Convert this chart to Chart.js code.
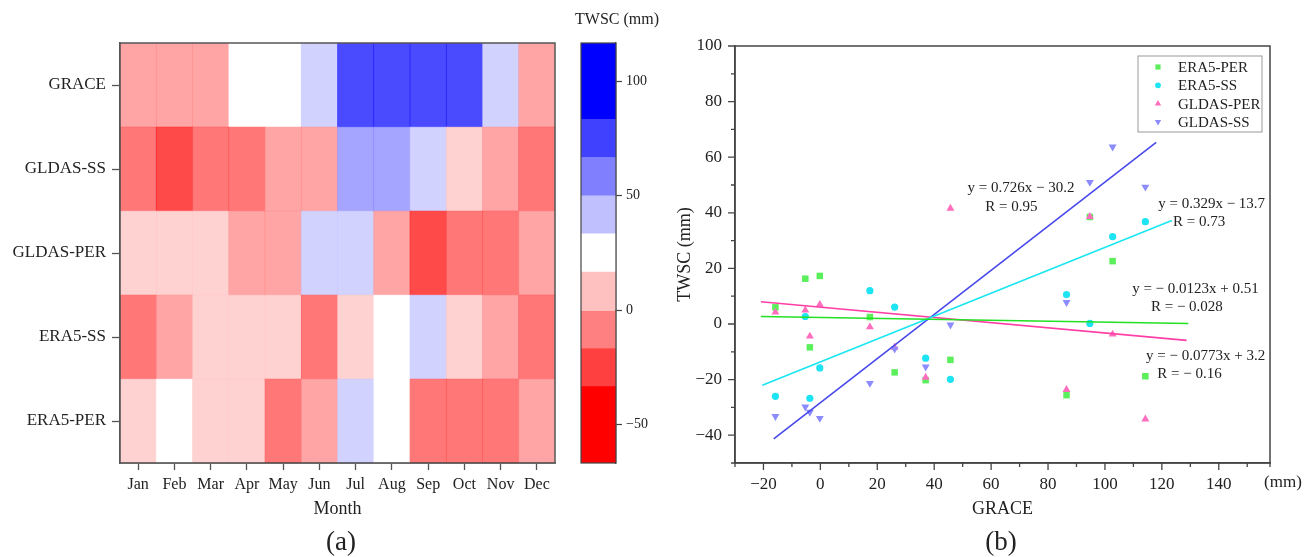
<!DOCTYPE html>
<html>
<head>
<meta charset="utf-8">
<script src="https://cdn.jsdelivr.net/npm/chart.js@4.4.1/dist/chart.umd.min.js"></script>
<style>
  html, body { margin: 0; padding: 0; background: #fff; }
  #wrap { position: relative; width: 1314px; height: 557px; overflow: hidden; }
  canvas { position: absolute; top: 0; }
</style>
</head>
<body>
<div id="wrap">
  <canvas id="heatChart" width="560" height="557" style="left:0"></canvas>
  <canvas id="barChart" width="110" height="557" style="left:560px"></canvas>
  <canvas id="scatterChart" width="654" height="557" style="left:660px"></canvas>
</div>
<script>
const months = ['Jan', 'Feb', 'Mar', 'Apr', 'May', 'Jun', 'Jul', 'Aug', 'Sep', 'Oct', 'Nov', 'Dec'];
const grace    = [-15.8, -0.2, -5.3, 17.4, 26.1, 45.7, 94.7, 102.7, 114.2, 86.5, 37.0, -3.7];
const gldasSS  = [-33.2, -33.9, -29.8, -21.3, -9.0, -0.3, 51.0, 63.7, 49.3, 7.8, -15.4, -31.7];
const gldasPER = [4.2, 7.0, 5.0, -1.1, -8.4, 41.6, 38.6, -3.7, -34.2, -23.6, -19.2, -4.4];
const era5SS   = [-26.0, -15.8, 2.7, 12.0, 6.1, -19.9, 0.2, 31.4, 36.8, 10.6, -12.3, -26.7];
const era5PER  = [6.0, 17.3, 16.3, 2.5, -17.4, -12.9, 38.5, 22.6, -18.8, -25.6, -20.2, -8.4];

// heatmap rows, top to bottom
const rowNames = ['GRACE', 'GLDAS-SS', 'GLDAS-PER', 'ERA5-SS', 'ERA5-PER'];
const rowSeries = [grace, gldasSS, gldasPER, era5SS, era5PER];

// colour bar levels (mm)
const bandEdges = [-66.67, -33.33, -16.67, 0, 16.67, 33.33, 50, 66.67, 83.33, 116.67];
const colorbarTicks = [-50, 0, 50, 100];

// scatter series (x = GRACE)
const seriesNames = ['ERA5-PER', 'ERA5-SS', 'GLDAS-PER', 'GLDAS-SS'];
const seriesValues = [era5PER, era5SS, gldasPER, gldasSS];

// fitted lines as drawn: start and end points
const fitX0 = [-20.9, -20.4, -20.9, -16.4];
const fitY0 = [2.7, -22.0, 8.0, -41.3];
const fitX1 = [129.3, 123.5, 128.7, 118.0];
const fitY1 = [0.2, 37.2, -5.9, 65.3];
const fitEquations = ['y = \u2212 0.0773x + 3.2', 'y = 0.329x \u2212 13.7', 'y = \u2212 0.0123x + 0.51', 'y = 0.726x \u2212 30.2'];
const fitR = ['R = \u2212 0.16', 'R = 0.73', 'R = \u2212 0.028', 'R = 0.95'];

// ---- styling ----
const bandRGB = ['255,0,0', '255,64,64', '255,128,128', '255,192,192', '255,255,255',
                 '192,192,255', '128,128,255', '64,64,255', '0,0,255'];
const markerColors = ['#5cef5c', '#1ee3f2', '#ff6ebe', '#8c8cff'];
const markerStyles = ['rect', 'circle', 'triangle', 'triangle'];
const markerRotation = [0, 0, 0, 180];
const markerRadius = [4.6, 3.6, 4.6, 4.6];
const lineColors = ['#22e022', '#19e6f0', '#ff3fa5', '#4848ec'];
// label anchors (data units) for equation and R text
const eqAt = [[135.4, -11.4], [137.5, 43.2], [131.8, 12.7], [70.5, 48.8]];
const rAt = [[129.7, -17.9], [133.1, 36.6], [128.8, 6.1], [67.1, 42.0]];

const SERIF = "'Liberation Serif', 'Times New Roman', serif";
const INK = '#222';
Chart.defaults.font.family = SERIF;
Chart.defaults.color = INK;

function bandIndex(v) {
    for (let i = 0; i < bandEdges.length - 1; i++) {
        if (v >= bandEdges[i] && v < bandEdges[i + 1]) return i;
    }
    return v < bandEdges[0] ? 0 : bandEdges.length - 2;
}
function minus(v) {
    return String(v).replace('-', '\u2212');
}

const framePlugin = {
    id: 'frame',
    afterDraw(chart, args, opts) {
        const { ctx, chartArea: a } = chart;
        ctx.save();
        ctx.strokeStyle = opts.color || '#555';
        ctx.lineWidth = opts.width || 1.5;
        ctx.strokeRect(a.left, a.top, a.right - a.left, a.bottom - a.top);
        ctx.restore();
    }
};

const textPlugin = {
    id: 'texts',
    afterDraw(chart, args, opts) {
        const ctx = chart.ctx;
        ctx.save();
        ctx.fillStyle = INK;
        ctx.textAlign = 'center';
        ctx.textBaseline = 'middle';
        (opts.items || []).forEach(t => {
            ctx.font = t.size + 'px ' + SERIF;
            ctx.fillText(t.text, t.x, t.y);
        });
        ctx.restore();
    }
};

function drawMarker(ctx, style, rot, r, x, y) {
    ctx.beginPath();
    if (style === 'rect') {
        const s = r * Math.SQRT1_2;
        ctx.rect(x - s, y - s, 2 * s, 2 * s);
    } else if (style === 'circle') {
        ctx.arc(x, y, r, 0, Math.PI * 2);
    } else {
        let a = rot * Math.PI / 180;
        for (let k = 0; k < 3; k++) {
            const px = x + Math.sin(a) * r, py = y - Math.cos(a) * r;
            if (k === 0) ctx.moveTo(px, py); else ctx.lineTo(px, py);
            a += Math.PI * 2 / 3;
        }
        ctx.closePath();
    }
    ctx.fill();
}

// ---------- (a) heatmap ----------
const heatDatasets = [];
for (let k = rowNames.length - 1; k >= 0; k--) {
    heatDatasets.push({
        label: rowNames[k],
        data: months.map(() => 1),
        backgroundColor: rowSeries[k].map(v => 'rgba(' + bandRGB[bandIndex(v)] + ',0.71)'),
        borderWidth: 0,
        barPercentage: 1,
        categoryPercentage: 1
    });
}

new Chart(document.getElementById('heatChart'), {
    type: 'bar',
    data: { labels: months, datasets: heatDatasets },
    options: {
        responsive: false,
        animation: false,
        layout: { padding: { left: 0, top: 43, right: 5, bottom: 33 } },
        scales: {
            x: {
                stacked: true,
                grid: { drawOnChartArea: false, offset: false, tickLength: 7, tickColor: '#555', tickWidth: 1.3 },
                border: { color: '#555', width: 1.5 },
                ticks: { font: { size: 16 }, padding: 5, maxRotation: 0, autoSkip: false, color: INK },
                title: { display: true, text: 'Month', font: { size: 18 }, padding: { top: 4, bottom: 4 }, color: INK },
                afterFit(scale) { scale.height = 61; }
            },
            y: {
                stacked: true,
                min: 0,
                max: 5,
                grid: { drawOnChartArea: false, tickLength: 8, tickColor: '#555', tickWidth: 1.3 },
                border: { color: '#555', width: 1.5 },
                afterBuildTicks(scale) {
                    scale.ticks = rowNames.map((n, i) => ({ value: i + 0.5 }));
                },
                ticks: {
                    font: { size: 17 },
                    padding: 6,
                    color: INK,
                    callback: (v) => rowNames[rowNames.length - 1 - Math.floor(v)]
                },
                afterFit(scale) { scale.width = 120; }
            }
        },
        plugins: {
            legend: { display: false },
            tooltip: { enabled: false },
            frame: { color: '#555', width: 1.5 },
            texts: { items: [{ text: '(a)', x: 341, y: 543, size: 27 }] }
        }
    },
    plugins: [framePlugin, textPlugin]
});

// ---------- colour bar ----------
const barDatasets = bandRGB.map((c, i) => ({
    data: [[bandEdges[i], bandEdges[i + 1]]],
    backgroundColor: 'rgb(' + c + ')',
    borderWidth: 0,
    barPercentage: 1,
    categoryPercentage: 1,
    grouped: false
}));

new Chart(document.getElementById('barChart'), {
    type: 'bar',
    data: { labels: [''], datasets: barDatasets },
    options: {
        responsive: false,
        animation: false,
        layout: { padding: { left: 21, top: 43, right: 0, bottom: 94 } },
        scales: {
            x: { display: false },
            y: {
                position: 'right',
                min: bandEdges[0],
                max: bandEdges[bandEdges.length - 1],
                bounds: 'data',
                grid: { drawOnChartArea: false, tickLength: 6, tickColor: '#444', tickWidth: 1.2 },
                border: { color: '#444', width: 1.2 },
                afterBuildTicks(scale) {
                    scale.ticks = colorbarTicks.map(v => ({ value: v }));
                },
                ticks: { font: { size: 14 }, padding: 4, color: INK, callback: (v) => minus(v) },
                afterFit(scale) { scale.width = 54; }
            }
        },
        plugins: {
            legend: { display: false },
            tooltip: { enabled: false },
            frame: { color: '#444', width: 1.2 },
            texts: { items: [{ text: 'TWSC (mm)', x: 57, y: 20, size: 16 }] }
        }
    },
    plugins: [framePlugin, textPlugin]
});

// ---------- (b) scatter ----------
const scatterDatasets = [];
seriesNames.forEach((name, i) => {
    scatterDatasets.push({
        label: name,
        data: grace.map((g, m) => ({ x: g, y: seriesValues[i][m] })),
        backgroundColor: markerColors[i],
        borderWidth: 0,
        pointStyle: markerStyles[i],
        rotation: markerRotation[i],
        pointRadius: markerRadius[i],
        order: 4 - i + 1
    });
});
seriesNames.forEach((name, i) => {
    scatterDatasets.push({
        label: name + ' fit',
        data: [{ x: fitX0[i], y: fitY0[i] }, { x: fitX1[i], y: fitY1[i] }],
        showLine: true,
        borderColor: lineColors[i],
        borderWidth: 1.6,
        pointRadius: 0,
        order: 0
    });
});

const minorTickPlugin = {
    id: 'minorTicks',
    afterDraw(chart) {
        const { ctx } = chart;
        const xs = chart.scales.x, ys = chart.scales.y;
        ctx.save();
        ctx.strokeStyle = '#444';
        ctx.lineWidth = 1.3;
        ctx.beginPath();
        xs.ticks.forEach(t => {
            const p = xs.getPixelForValue(t.value);
            const len = Math.round(t.value) % 20 === 0 ? 7 : 4;
            ctx.moveTo(p, xs.top);
            ctx.lineTo(p, xs.top + len);
        });
        ys.ticks.forEach(t => {
            const p = ys.getPixelForValue(t.value);
            const len = Math.round(t.value) % 20 === 0 ? 7 : 4;
            ctx.moveTo(ys.right, p);
            ctx.lineTo(ys.right - len, p);
        });
        ctx.stroke();
        ctx.restore();
    }
};

const legendBoxPlugin = {
    id: 'legendBox',
    afterDraw(chart) {
        const { ctx, chartArea: a } = chart;
        const w = 124, h = 76;
        const x0 = a.right - 8 - w, y0 = a.top + 10;
        ctx.save();
        ctx.fillStyle = '#fff';
        ctx.fillRect(x0, y0, w, h);
        ctx.strokeStyle = '#999';
        ctx.lineWidth = 1;
        ctx.strokeRect(x0, y0, w, h);
        ctx.font = '15px ' + SERIF;
        ctx.textBaseline = 'middle';
        seriesNames.forEach((name, i) => {
            const y = y0 + 11 + i * 18.3;
            ctx.fillStyle = markerColors[i];
            drawMarker(ctx, markerStyles[i], markerRotation[i], markerRadius[i] * 0.8, x0 + 20, y);
            ctx.fillStyle = INK;
            ctx.fillText(name, x0 + 40, y + 1);
        });
        // fit equations
        const xs = chart.scales.x, ys = chart.scales.y;
        ctx.textAlign = 'center';
        seriesNames.forEach((name, i) => {
            ctx.fillText(fitEquations[i], xs.getPixelForValue(eqAt[i][0]), ys.getPixelForValue(eqAt[i][1]));
            ctx.fillText(fitR[i], xs.getPixelForValue(rAt[i][0]), ys.getPixelForValue(rAt[i][1]));
        });
        ctx.restore();
    }
};

new Chart(document.getElementById('scatterChart'), {
    type: 'scatter',
    data: { datasets: scatterDatasets },
    options: {
        responsive: false,
        animation: false,
        layout: { padding: { left: 0, top: 46, right: 44, bottom: 33 } },
        scales: {
            x: {
                type: 'linear',
                min: -30,
                max: 158,
                bounds: 'data',
                grid: { display: true, drawOnChartArea: false, drawTicks: false },
                border: { color: '#444', width: 1.5 },
                ticks: {
                    stepSize: 10,
                    includeBounds: false,
                    autoSkip: false,
                    maxRotation: 0,
                    padding: 11,
                    font: { size: 17 },
                    color: INK,
                    callback: (v) => (Math.round(v) % 20 === 0 ? minus(v) : '')
                },
                title: { display: true, text: 'GRACE', font: { size: 18 }, padding: { top: 4, bottom: 4 }, color: INK },
                afterFit(scale) { scale.height = 61; }
            },
            y: {
                type: 'linear',
                min: -50,
                max: 100,
                bounds: 'data',
                grid: { display: true, drawOnChartArea: false, drawTicks: false },
                border: { color: '#444', width: 1.5 },
                ticks: {
                    stepSize: 10,
                    includeBounds: false,
                    padding: 13,
                    font: { size: 17 },
                    color: INK,
                    callback: (v) => (Math.round(v) % 20 === 0 ? minus(v) : '')
                },
                title: { display: true, text: 'TWSC (mm)', font: { size: 18 }, padding: { top: 14, bottom: 0 }, color: INK },
                afterFit(scale) { scale.width = 75; }
            }
        },
        plugins: {
            legend: { display: false },
            tooltip: { enabled: false },
            frame: { color: '#444', width: 1.5 },
            texts: {
                items: [
                    { text: '(mm)', x: 623, y: 483, size: 17 },
                    { text: '(b)', x: 341, y: 543, size: 27 }
                ]
            }
        }
    },
    plugins: [framePlugin, minorTickPlugin, legendBoxPlugin, textPlugin]
});
</script>
</body>
</html>
